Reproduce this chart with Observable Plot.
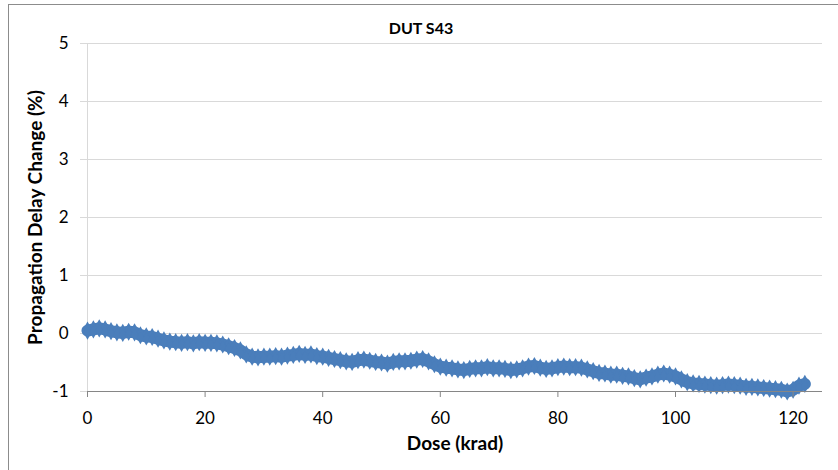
<!DOCTYPE html>
<html><head><meta charset="utf-8">
<script src="https://cdn.jsdelivr.net/npm/d3@7"></script>
<script src="https://cdn.jsdelivr.net/npm/@observablehq/plot@0.6"></script>
<style>
body{margin:0;background:#fff;}
#wrap{position:relative;width:838px;height:470px;overflow:hidden;}
#frame{position:absolute;left:8px;top:4px;width:900px;height:600px;border:1px solid #8c8c8c;box-sizing:border-box;pointer-events:none;}
svg{display:block;}
</style></head><body><div id="wrap"><div id="frame"></div></div>
<script>
const title = "DUT S43";
const xLabel = "Dose (krad)";
const yLabel = "Propagation Delay Change (%)";
const xTicks = [0, 20, 40, 60, 80, 100, 120];
const yTicks = [-1, 0, 1, 2, 3, 4, 5];
const dose = [0,1,2,3,4,5,6,7,8,9,10,11,12,13,14,15,16,17,18,19,20,21,22,23,24,25,26,27,28,29,30,31,32,33,34,35,36,37,38,39,40,41,42,43,44,45,46,47,48,49,50,51,52,53,54,55,56,57,58,59,60,61,62,63,64,65,66,67,68,69,70,71,72,73,74,75,76,77,78,79,80,81,82,83,84,85,86,87,88,89,90,91,92,93,94,95,96,97,98,99,100,101,102,103,104,105,106,107,108,109,110,111,112,113,114,115,116,117,118,119,120,121,122];
const delayChange = [0.05,0.07,0.09,0.07,0.04,0.02,0.01,0.03,0.02,-0.03,-0.05,-0.06,-0.09,-0.12,-0.14,-0.15,-0.16,-0.15,-0.17,-0.15,-0.16,-0.16,-0.17,-0.19,-0.22,-0.25,-0.29,-0.36,-0.40,-0.41,-0.40,-0.40,-0.39,-0.40,-0.38,-0.37,-0.35,-0.37,-0.36,-0.39,-0.40,-0.42,-0.44,-0.46,-0.48,-0.49,-0.46,-0.45,-0.47,-0.49,-0.50,-0.52,-0.49,-0.48,-0.48,-0.47,-0.45,-0.44,-0.48,-0.53,-0.57,-0.59,-0.60,-0.62,-0.63,-0.61,-0.60,-0.60,-0.58,-0.60,-0.60,-0.61,-0.63,-0.62,-0.60,-0.57,-0.56,-0.59,-0.61,-0.60,-0.58,-0.57,-0.58,-0.58,-0.59,-0.62,-0.65,-0.68,-0.69,-0.71,-0.71,-0.73,-0.74,-0.77,-0.79,-0.76,-0.74,-0.71,-0.69,-0.71,-0.74,-0.79,-0.84,-0.86,-0.87,-0.88,-0.89,-0.90,-0.89,-0.88,-0.89,-0.90,-0.92,-0.92,-0.93,-0.94,-0.95,-0.96,-0.97,-1.00,-0.97,-0.90,-0.87];
const data = dose.map((d, i) => ({dose: d, change: delayChange[i]}));
const font = "Lato, 'Open Sans', sans-serif";
const blue = "#4a7ebb";
const chart = Plot.plot({
  width: 838, height: 470,
  marginLeft: 87, marginRight: 16, marginTop: 43, marginBottom: 79,
  style: {fontFamily: font, fontSize: "16px", color: "#000", background: "transparent"},
  x: {domain: [0, 125]},
  y: {domain: [-1, 5]},
  marks: [
    Plot.gridY(yTicks.filter(t => t > -1), {stroke: "#d9d9d9", strokeOpacity: 1}),
    Plot.ruleX([0], {y1: -1, y2: 5, stroke: "#d9d9d9"}),
    Plot.axisY(yTicks, {tickSize: 7, tickPadding: 12, stroke: "#d9d9d9", fill: "#000", label: null, fontSize: 17, tickFormat: d => String(d)}),
    Plot.line(data, {x: "dose", y: "change", stroke: blue, strokeWidth: 12, strokeLinejoin: "round", strokeLinecap: "round"}),
    Plot.dot(data, {x: "dose", y: "change", symbol: "diamond", r: 4, fill: blue, dy: -2.5}),
    Plot.dot(data, {x: "dose", y: "change", symbol: "diamond", r: 4, fill: blue, dy: 2.5}),
    Plot.ruleY([-1], {stroke: "#868686", strokeWidth: 1.2}),
    Plot.axisX(xTicks, {tickSize: 6, tickPadding: 14, stroke: "#868686", fill: "#000", label: null, fontSize: 17, tickFormat: d => String(d)}),
    Plot.text([title], {frameAnchor: "top", lineAnchor: "middle", dy: -15, dx: -34, fontWeight: "bold", fontSize: 16}),
    Plot.text([xLabel], {frameAnchor: "bottom", lineAnchor: "middle", dy: 52, fontWeight: "bold", fontSize: 19}),
    Plot.text([yLabel], {frameAnchor: "left", textAnchor: "middle", lineAnchor: "middle", dx: -52, rotate: -90, fontWeight: "bold", fontSize: 19})
  ]
});
document.getElementById("wrap").prepend(chart);
</script>
</body></html>
